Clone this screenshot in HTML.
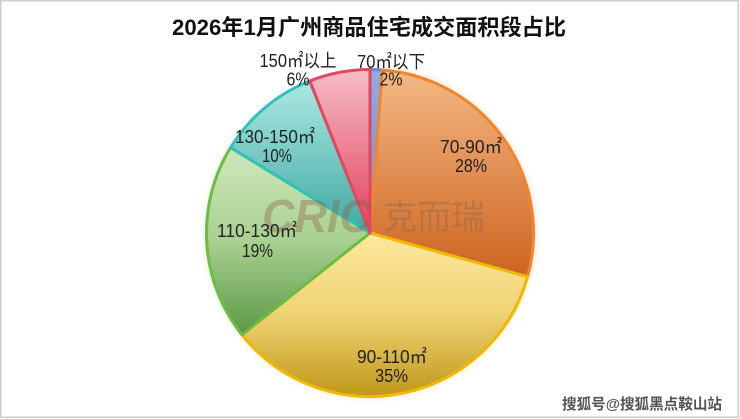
<!DOCTYPE html>
<html>
<head>
<meta charset="utf-8">
<style>
html,body{margin:0;padding:0;background:#fff;}
svg{display:block;}
</style>
</head>
<body>
<svg width="740" height="419" viewBox="0 0 740 419" xmlns="http://www.w3.org/2000/svg">
<defs>
  <linearGradient id="gBlue" x1="0" y1="0" x2="0" y2="1"><stop offset="0" stop-color="#93abe3"/><stop offset="1" stop-color="#6f8fd6"/></linearGradient>
  <linearGradient id="gOrange" x1="0" y1="0" x2="0" y2="1"><stop offset="0" stop-color="#f4b884"/><stop offset="1" stop-color="#cd6420"/></linearGradient>
  <linearGradient id="gYellow" x1="0" y1="0" x2="0" y2="1"><stop offset="0" stop-color="#fde89e"/><stop offset="0.5" stop-color="#efd274"/><stop offset="1" stop-color="#bf9818"/></linearGradient>
  <linearGradient id="gGreen" x1="0" y1="0" x2="0" y2="1"><stop offset="0" stop-color="#d0e8bc"/><stop offset="0.5" stop-color="#a8d090"/><stop offset="1" stop-color="#5c9846"/></linearGradient>
  <linearGradient id="gTeal" x1="0" y1="0" x2="0" y2="1"><stop offset="0" stop-color="#ace9e3"/><stop offset="1" stop-color="#41a8a2"/></linearGradient>
  <linearGradient id="gPink" x1="0" y1="0" x2="0" y2="1"><stop offset="0" stop-color="#f5bdc5"/><stop offset="1" stop-color="#e2405e"/></linearGradient>
  <filter id="glow" x="-20%" y="-20%" width="140%" height="140%"><feGaussianBlur stdDeviation="4"/></filter>
</defs>

<rect x="0" y="0" width="740" height="419" fill="#fff"/>
<rect x="0.75" y="0.75" width="737.5" height="416.5" fill="none" stroke="#cdcdcd" stroke-width="1.5"/>

<text x="369" y="35" text-anchor="middle" font-family="'Liberation Sans','Noto Sans CJK SC',sans-serif" font-size="22" font-weight="bold" fill="#111" textLength="394" lengthAdjust="spacingAndGlyphs">2026年1月广州商品住宅成交面积段占比</text>

<!-- glow -->
<g filter="url(#glow)" opacity="0.55">
  <path d="M370,233 L382.26,69.96 A163.5,163.5 0 0 1 527.55,276.69 Z" fill="#f5a060"/>
  <path d="M370,233 L527.55,276.69 A163.5,163.5 0 0 1 242.04,334.78 Z" fill="#f5d060"/>
  <path d="M370,233 L242.04,334.78 A163.5,163.5 0 0 1 230.59,147.57 Z" fill="#a8d890"/>
</g>

<!-- slices -->
<g stroke-width="3" stroke-linejoin="round">
  <path d="M370,233 L370,69.5 A163.5,163.5 0 0 1 382.26,69.96 Z" fill="url(#gBlue)" stroke="#6a8ad8"/>
  <path d="M370,233 L382.26,69.96 A163.5,163.5 0 0 1 527.55,276.69 Z" fill="url(#gOrange)" stroke="#f0852c"/>
  <path d="M370,233 L527.55,276.69 A163.5,163.5 0 0 1 242.04,334.78 Z" fill="url(#gYellow)" stroke="#f2b800"/>
  <path d="M370,233 L242.04,334.78 A163.5,163.5 0 0 1 230.59,147.57 Z" fill="url(#gGreen)" stroke="#6cbd3e"/>
  <path d="M370,233 L230.59,147.57 A163.5,163.5 0 0 1 309.81,80.98 Z" fill="url(#gTeal)" stroke="#30c2ba"/>
  <path d="M370,233 L309.81,80.98 A163.5,163.5 0 0 1 370,69.5 Z" fill="url(#gPink)" stroke="#e4465e"/>
</g>

<!-- CRIC watermark -->
<g fill="#8a6448" opacity="0.38">
  <text x="262" y="232" font-family="'Liberation Sans',sans-serif" font-size="46" font-weight="bold" font-style="italic" textLength="110" lengthAdjust="spacingAndGlyphs">CRIC</text>
  <text x="383" y="229" font-family="'Liberation Sans','Noto Sans CJK SC',sans-serif" font-size="34" textLength="102" lengthAdjust="spacingAndGlyphs">克而瑞</text>
</g>

<!-- labels -->
<g font-family="'Liberation Sans','Noto Sans CJK SC',sans-serif" font-size="18" fill="#222" text-anchor="middle" lengthAdjust="spacingAndGlyphs">
  <text x="298" y="67" textLength="77" lengthAdjust="spacingAndGlyphs">150㎡以上</text>
  <text x="298" y="85.5" textLength="23" lengthAdjust="spacingAndGlyphs">6%</text>
  <text x="391" y="68" textLength="68" lengthAdjust="spacingAndGlyphs">70㎡以下</text>
  <text x="391" y="85.5" textLength="23" lengthAdjust="spacingAndGlyphs">2%</text>
  <text x="471" y="153" textLength="62" lengthAdjust="spacingAndGlyphs">70-90㎡</text>
  <text x="471" y="172" textLength="32" lengthAdjust="spacingAndGlyphs">28%</text>
  <text x="275" y="143" textLength="80" lengthAdjust="spacingAndGlyphs">130-150㎡</text>
  <text x="277" y="162" textLength="30" lengthAdjust="spacingAndGlyphs">10%</text>
  <text x="257" y="237" textLength="80" lengthAdjust="spacingAndGlyphs">110-130㎡</text>
  <text x="257.5" y="257" textLength="31" lengthAdjust="spacingAndGlyphs">19%</text>
  <text x="392" y="363" textLength="70" lengthAdjust="spacingAndGlyphs">90-110㎡</text>
  <text x="391.5" y="382" textLength="33" lengthAdjust="spacingAndGlyphs">35%</text>
</g>

<!-- bottom watermark -->
<text x="562" y="409" font-family="'Liberation Sans','Noto Sans CJK SC',sans-serif" font-size="15" font-weight="bold" fill="#555" stroke="#fff" stroke-width="2" paint-order="stroke" textLength="160" lengthAdjust="spacingAndGlyphs">搜狐号@搜狐黑点鞍山站</text>
</svg>
</body>
</html>
